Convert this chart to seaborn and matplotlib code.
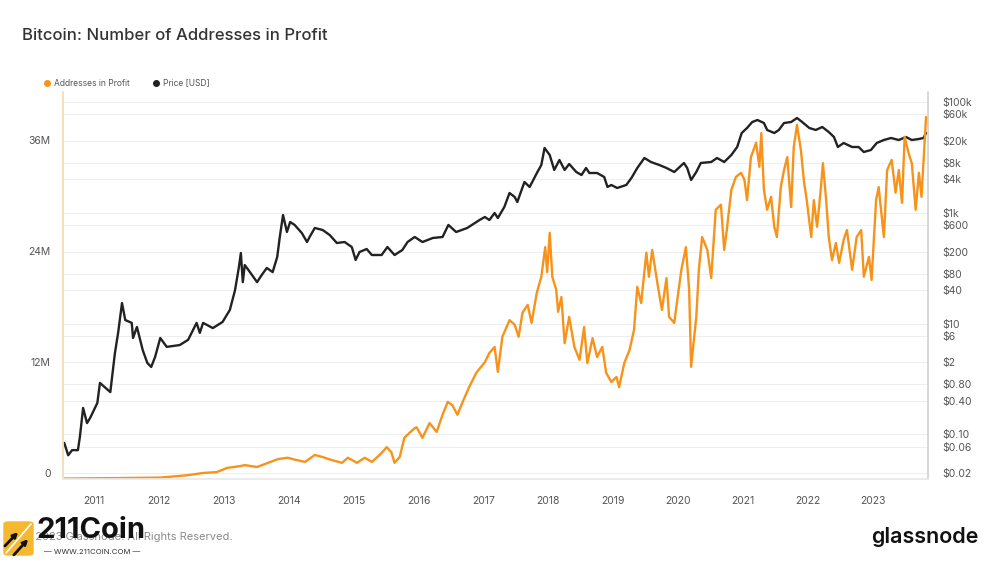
import numpy as np
import pandas as pd
import matplotlib
matplotlib.use('Agg')
import matplotlib.pyplot as plt
import matplotlib.ticker as mticker
from matplotlib.lines import Line2D
from matplotlib.patches import FancyBboxPatch, FancyArrowPatch
import seaborn as sns

# Price [USD] (decimal year, price)
price_years = [2010.54, 2010.60, 2010.66, 2010.75, 2010.78, 2010.83, 2010.89, 2010.94, 2011.05, 2011.09,
               2011.25, 2011.32, 2011.37, 2011.43, 2011.48, 2011.58, 2011.60, 2011.66, 2011.75, 2011.82,
               2011.88, 2011.94, 2012.02, 2012.12, 2012.32, 2012.45, 2012.58, 2012.63, 2012.68, 2012.83,
               2012.98, 2013.09, 2013.17, 2013.23, 2013.26, 2013.29, 2013.32, 2013.40, 2013.51, 2013.58,
               2013.66, 2013.75, 2013.82, 2013.86, 2013.91, 2013.97, 2014.02, 2014.09, 2014.20, 2014.28,
               2014.32, 2014.40, 2014.52, 2014.63, 2014.74, 2014.86, 2014.97, 2015.03, 2015.09, 2015.20,
               2015.28, 2015.43, 2015.52, 2015.63, 2015.75, 2015.83, 2015.94, 2016.06, 2016.22, 2016.37,
               2016.46, 2016.58, 2016.75, 2016.94, 2017.02, 2017.09, 2017.17, 2017.22, 2017.32, 2017.40,
               2017.48, 2017.52, 2017.63, 2017.71, 2017.83, 2017.89, 2017.94, 2018.02, 2018.09, 2018.17,
               2018.25, 2018.32, 2018.43, 2018.51, 2018.58, 2018.63, 2018.75, 2018.86, 2018.91, 2018.97,
               2019.06, 2019.20, 2019.28, 2019.37, 2019.48, 2019.58, 2019.71, 2019.82, 2019.94, 2020.09,
               2020.14, 2020.20, 2020.28, 2020.35, 2020.51, 2020.60, 2020.71, 2020.82, 2020.91, 2020.98,
               2021.06, 2021.14, 2021.22, 2021.32, 2021.37, 2021.48, 2021.55, 2021.63, 2021.74, 2021.83,
               2021.91, 2022.02, 2022.12, 2022.22, 2022.32, 2022.40, 2022.46, 2022.55, 2022.68, 2022.78,
               2022.86, 2022.97, 2023.06, 2023.17, 2023.28, 2023.40, 2023.51, 2023.60, 2023.71, 2023.78,
               2023.82]
price_usd = [0.070, 0.042, 0.052, 0.052, 0.090, 0.30, 0.16, 0.20, 0.37, 0.85,
             0.58, 2.9, 6.8, 23.5, 11.6, 10.3, 5.5, 8.7, 3.3, 1.95,
             1.65, 2.5, 5.5, 3.8, 4.1, 5.1, 10.3, 6.8, 10.3, 8.3,
             10.7, 17.6, 40, 105, 188, 56, 114, 85, 56, 75,
             101, 85, 159, 366, 912, 450, 682, 603, 432, 297,
             366, 532, 490, 397, 285, 297, 241, 141, 196, 222,
             173, 173, 241, 173, 213, 297, 366, 297, 351, 366,
             603, 450, 532, 741, 840, 741, 991, 805, 1273, 2277,
             1928, 1566, 3597, 2924, 5450, 7290, 14790, 11040, 5930, 8980,
             5930, 7600, 5450, 4810, 6440, 5230, 5230, 4430, 2924, 3175,
             2805, 3175, 4250, 6440, 9750, 8260, 7290, 6440, 5450, 7925,
             6440, 3910, 5450, 7925, 8260, 9750, 8260, 11040, 15400, 27550,
             33940, 43520, 47300, 41780, 31240, 27550, 31240, 41780, 43520, 51400,
             43520, 33940, 31240, 35380, 28730, 23340, 15400, 18200, 15400, 15400,
             12510, 13610, 18200, 20610, 22390, 20610, 23340, 20610, 21490, 22390,
             27550]

# Addresses in Profit (decimal year, millions)
addr_years = [2010.54, 2011.40, 2012.02, 2012.43, 2012.68, 2012.89, 2013.05, 2013.25, 2013.32, 2013.51,
              2013.68, 2013.83, 2013.98, 2014.12, 2014.25, 2014.40, 2014.51, 2014.66, 2014.82, 2014.91,
              2015.05, 2015.17, 2015.28, 2015.40, 2015.51, 2015.58, 2015.63, 2015.71, 2015.78, 2015.86,
              2015.94, 2015.97, 2016.06, 2016.17, 2016.28, 2016.37, 2016.45, 2016.52, 2016.60, 2016.68,
              2016.78, 2016.89, 2017.02, 2017.09, 2017.17, 2017.22, 2017.29, 2017.40, 2017.48, 2017.54,
              2017.60, 2017.68, 2017.74, 2017.82, 2017.89, 2017.95, 2017.98, 2018.02, 2018.06, 2018.12,
              2018.15, 2018.20, 2018.25, 2018.32, 2018.40, 2018.48, 2018.55, 2018.60, 2018.68, 2018.75,
              2018.83, 2018.89, 2018.97, 2019.05, 2019.09, 2019.17, 2019.25, 2019.32, 2019.37, 2019.43,
              2019.51, 2019.55, 2019.60, 2019.68, 2019.75, 2019.82, 2019.86, 2019.94, 2019.98, 2020.05,
              2020.12, 2020.17, 2020.20, 2020.28, 2020.32, 2020.37, 2020.45, 2020.51, 2020.58, 2020.66,
              2020.71, 2020.75, 2020.82, 2020.89, 2020.97, 2021.02, 2021.06, 2021.12, 2021.20, 2021.25,
              2021.28, 2021.32, 2021.37, 2021.43, 2021.48, 2021.52, 2021.58, 2021.63, 2021.68, 2021.74,
              2021.78, 2021.83, 2021.89, 2021.94, 2021.98, 2022.05, 2022.09, 2022.14, 2022.20, 2022.23,
              2022.28, 2022.32, 2022.37, 2022.43, 2022.48, 2022.55, 2022.60, 2022.68, 2022.75, 2022.82,
              2022.86, 2022.94, 2022.98, 2023.05, 2023.09, 2023.17, 2023.22, 2023.29, 2023.35, 2023.40,
              2023.45, 2023.49, 2023.55, 2023.60, 2023.66, 2023.71, 2023.75, 2023.82]
addr_millions = [0.05, 0.1, 0.15, 0.4, 0.65, 0.75, 1.2, 1.4, 1.5, 1.3,
                 1.75, 2.15, 2.3, 2.05, 1.85, 2.6, 2.4, 2.05, 1.75, 2.3,
                 1.75, 2.3, 1.85, 2.6, 3.45, 2.9, 1.75, 2.4, 4.45, 5.0,
                 5.5, 5.6, 4.45, 6.05, 5.1, 6.95, 8.35, 8.0, 6.95, 8.35,
                 9.95, 11.5, 12.65, 13.65, 14.3, 11.6, 15.4, 17.2, 16.7, 15.4,
                 18.0, 18.85, 16.9, 20.15, 21.9, 25.1, 22.4, 26.65, 21.9, 20.5,
                 18.1, 19.7, 14.7, 17.55, 14.3, 12.9, 16.45, 12.55, 15.25, 13.2,
                 14.3, 11.5, 10.5, 11.05, 9.95, 12.55, 13.95, 16.15, 20.8, 19.05,
                 24.5, 21.9, 24.8, 21.2, 18.3, 21.75, 17.55, 16.9, 19.05, 22.65,
                 25.1, 20.5, 12.15, 17.55, 22.65, 26.2, 24.8, 21.75, 29.15, 29.7,
                 24.8, 26.95, 31.3, 32.7, 33.15, 32.4, 30.2, 34.85, 36.4, 33.8,
                 37.45, 31.3, 29.15, 30.55, 27.3, 26.2, 31.6, 33.45, 34.85, 29.45,
                 35.95, 38.35, 35.6, 32.05, 30.2, 26.2, 30.2, 27.3, 31.6, 34.2,
                 30.2, 26.2, 23.7, 25.55, 23.4, 25.9, 26.95, 22.65, 26.2, 26.95,
                 21.9, 24.05, 21.55, 30.2, 31.6, 26.2, 33.45, 34.55, 31.0, 33.45,
                 29.9, 37.05, 35.3, 34.2, 29.15, 33.15, 30.55, 39.2]

left_ticks = [0, 12, 24, 36]
left_labels = ['0', '12M', '24M', '36M']
right_ticks = [100000, 60000, 20000, 8000, 4000, 1000, 600, 200, 80, 40, 10, 6, 2, 0.8, 0.4, 0.1, 0.06, 0.02]
right_labels = ['$100k', '$60k', '$20k', '$8k', '$4k', '$1k', '$600', '$200', '$80', '$40',
                '$10', '$6', '$2', '$0.80', '$0.40', '$0.10', '$0.06', '$0.02']
year_ticks = list(range(2011, 2024))


def to_date(y):
    year = int(y)
    return pd.Timestamp(year, 1, 1) + pd.Timedelta(days=(y - year) * 365.25)


price_df = pd.DataFrame({'date': [to_date(v) for v in price_years], 'price': price_usd})
addr_df = pd.DataFrame({'date': [to_date(v) for v in addr_years], 'addresses': addr_millions})

sns.set_theme(style='white')
plt.rcParams['font.family'] = ['Inter', 'DejaVu Sans']

orange = '#f7931a'
dark = '#222222'
grey_txt = '#555555'

fig = plt.figure(figsize=(10, 5.62), dpi=100)
ax = fig.add_axes([0.063, 0.1477, 0.865, 0.6886])
ax2 = ax.twinx()

sns.lineplot(data=price_df, x='date', y='price', ax=ax2, color=dark, lw=1.7)
sns.lineplot(data=addr_df, x='date', y='addresses', ax=ax, color=orange, lw=1.7)

# orange series above the price line
ax.set_zorder(ax2.get_zorder() + 1)
ax.patch.set_visible(False)

ax.set_xlim(to_date(2010.52), to_date(2023.85))
ax.set_ylim(0, 41.9)
ax2.set_yscale('log')
ax2.set_ylim(0.01567, 151500)

ax.set_yticks(left_ticks)
ax.set_yticklabels(left_labels, va='bottom')
ax2.set_yticks(right_ticks)
ax2.set_yticklabels(right_labels)
ax2.yaxis.set_minor_locator(mticker.NullLocator())
ax.set_xticks([pd.Timestamp(y, 1, 1) for y in year_ticks])
ax.set_xticklabels([str(y) for y in year_ticks])

for a in (ax, ax2):
    a.set_xlabel('')
    a.set_ylabel('')
    for s in a.spines.values():
        s.set_visible(False)

ax.spines['left'].set_visible(True)
ax.spines['left'].set_color('#f3dcb4')
ax.spines['bottom'].set_visible(True)
ax.spines['bottom'].set_color('#e8e8e8')
ax2.spines['right'].set_visible(True)
ax2.spines['right'].set_color('#d4d4d4')

ax2.grid(True, axis='y', which='major', color='#eeeeee', lw=0.7)
ax.grid(False)

ax.tick_params(axis='y', labelsize=7.5, labelcolor=grey_txt, length=0, pad=9)
ax.tick_params(axis='x', labelsize=7.5, labelcolor=grey_txt, length=4, color='#e4e4e4', pad=8)
ax2.tick_params(axis='y', labelsize=7.5, labelcolor=grey_txt, length=0, pad=10)

fig.text(0.022, 0.936, 'Bitcoin: Number of Addresses in Profit', fontsize=12,
         color='#333333', va='center', ha='left', fontweight='medium')

# legend
ly = 1 - 83 / 562
fig.add_artist(Line2D([0.047], [ly], marker='o', color=orange, markersize=4,
                      transform=fig.transFigure, lw=0))
fig.text(0.054, ly, 'Addresses in Profit', fontsize=6.1, color=grey_txt, va='center')
fig.add_artist(Line2D([0.156], [ly], marker='o', color=dark, markersize=4,
                      transform=fig.transFigure, lw=0))
fig.text(0.163, ly, 'Price [USD]', fontsize=6.1, color=grey_txt, va='center')

# footer
fig.text(0.022, 1 - 537 / 562, '\u00a9 2023 Glassnode. All Rights Reserved.', fontsize=8,
         color='#8a8a8a', va='center')
fig.text(0.978, 1 - 537 / 562, 'glassnode', fontsize=15.5, color='#111111', va='center',
         ha='right', fontweight='semibold')

# 211Coin watermark
fig.add_artist(FancyBboxPatch((0.004, 1 - 555 / 562), 0.029, 33 / 562,
                              boxstyle='round,pad=0,rounding_size=0.004',
                              transform=fig.transFigure, color='#f5b82e', zorder=5))
fig.add_artist(Line2D([0.006, 0.031], [1 - 553 / 562, 1 - 524 / 562], color='white', lw=1.2,
                      transform=fig.transFigure, zorder=6))
for x0, y0, x1, y1 in [(0.003, 548, 0.020, 530), (0.012, 557, 0.030, 537)]:
    fig.add_artist(FancyArrowPatch((x0, 1 - y0 / 562), (x1, 1 - y1 / 562), arrowstyle='-|>',
                                   mutation_scale=7, lw=2.0, color='#111111',
                                   transform=fig.transFigure, zorder=7))
fig.text(0.036, 1 - 531 / 562, '211Coin', fontsize=21, color='#111111', va='center',
         fontweight='bold', zorder=8)
fig.text(0.0925, 1 - 552 / 562, '\u2014 WWW.211COIN.COM \u2014', fontsize=5.6, color='#333333',
         va='center', ha='center', zorder=8)

fig.savefig('out.png', dpi=100)
